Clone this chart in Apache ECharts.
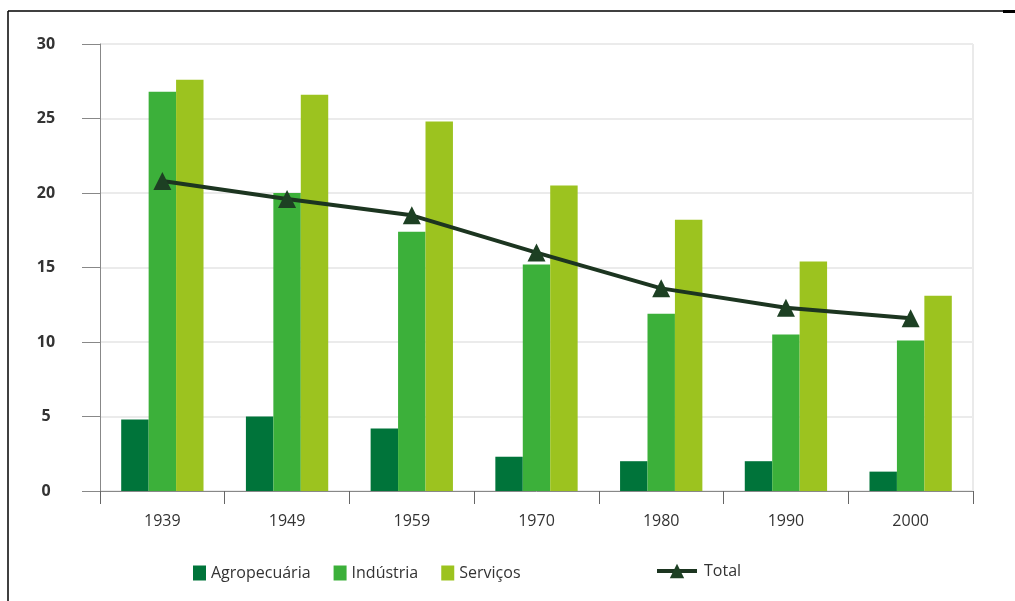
<!DOCTYPE html>
<html><head><meta charset="utf-8">
<script src="https://cdn.jsdelivr.net/npm/echarts@6/dist/echarts.min.js"></script>
<style>html,body{margin:0;padding:0;background:#fff}#c{width:1015px;height:601px}</style>
</head><body><div id="c"></div>
<script>
const categories = ['1939','1949','1959','1970','1980','1990','2000'];
const agropecuaria = [4.8, 5.0, 4.2, 2.3, 2.0, 2.0, 1.3];
const industria = [26.8, 20.0, 17.4, 15.2, 11.9, 10.5, 10.1];
const servicos = [27.6, 26.6, 24.8, 20.5, 18.2, 15.4, 13.1];
const total = [20.8, 19.6, 18.5, 16.0, 13.6, 12.3, 11.6];
const yTicks = [0, 5, 10, 15, 20, 25, 30];

const font = 'Open Sans';
const chart = echarts.init(document.getElementById('c'));
chart.setOption({
  animation: false,
  textStyle: {fontFamily: font},
  grid: {left: 100, right: 42, top: 44, bottom: 110, show: true, borderWidth: 0},
  legend: [
    {
      top: 560, left: 188, itemGap: 23, itemWidth: 13, itemHeight: 15,
      textStyle: {fontSize: 16, color: '#333', fontFamily: font},
      data: [
        {name: 'Agropecuária', icon: 'rect'},
        {name: 'Indústria', icon: 'rect'},
        {name: 'Serviços', icon: 'rect'}
      ]
    },
    {
      top: 558, left: 650, itemWidth: 40, itemHeight: 18,
      lineStyle: {width: 4, color: '#1c3520'},
      textStyle: {fontSize: 16, color: '#333', fontFamily: font, padding: [0, 0, 6, 2]},
      data: [{name: 'Total'}]
    }
  ],
  xAxis: {
    type: 'category', data: categories,
    axisLine: {lineStyle: {color: '#888', width: 1}},
    axisTick: {show: true, length: 13, lineStyle: {color: '#666'}},
    axisLabel: {fontSize: 16, color: '#333', margin: 22}
  },
  yAxis: {
    type: 'value', min: 0, max: 30, interval: 5,
    axisLine: {show: true, lineStyle: {color: '#888'}},
    axisTick: {show: true, length: 18, lineStyle: {color: '#888'}},
    axisLabel: {fontSize: 16, color: '#333', fontWeight: 'bold', margin: 54, align: 'center',
      formatter: v => yTicks.includes(v) ? String(v) : ''},
    splitLine: {lineStyle: {color: '#ebebeb', width: 2}}
  },
  series: [
    {name: 'Agropecuária', type: 'bar', data: agropecuaria, barWidth: '22%', barGap: '0%', barCategoryGap: '34%',
      itemStyle: {color: '#00743a'}},
    {name: 'Indústria', type: 'bar', data: industria, barWidth: '22%', barGap: '0%',
      itemStyle: {color: '#3cb03a'}},
    {name: 'Serviços', type: 'bar', data: servicos, barWidth: '22%', barGap: '0%',
      itemStyle: {color: '#9cc31f'}},
    {name: 'Total', type: 'line', data: total, symbol: 'triangle', symbolSize: 18,
      lineStyle: {color: '#1c3520', width: 4}, itemStyle: {color: '#1d4023'}}
  ],
  graphic: [
    {type: 'line', shape: {x1: 8, y1: 11, x2: 1003, y2: 11}, style: {stroke: '#000', lineWidth: 1.5}},
    {type: 'line', shape: {x1: 1003, y1: 11.5, x2: 1015, y2: 11.5}, style: {stroke: '#000', lineWidth: 3}},
    {type: 'line', shape: {x1: 8, y1: 11, x2: 8, y2: 601}, style: {stroke: '#000', lineWidth: 1.5}},
    {type: 'line', shape: {x1: 973, y1: 44, x2: 973, y2: 491}, style: {stroke: '#eaeaea', lineWidth: 2}}
  ]
});
</script></body></html>
